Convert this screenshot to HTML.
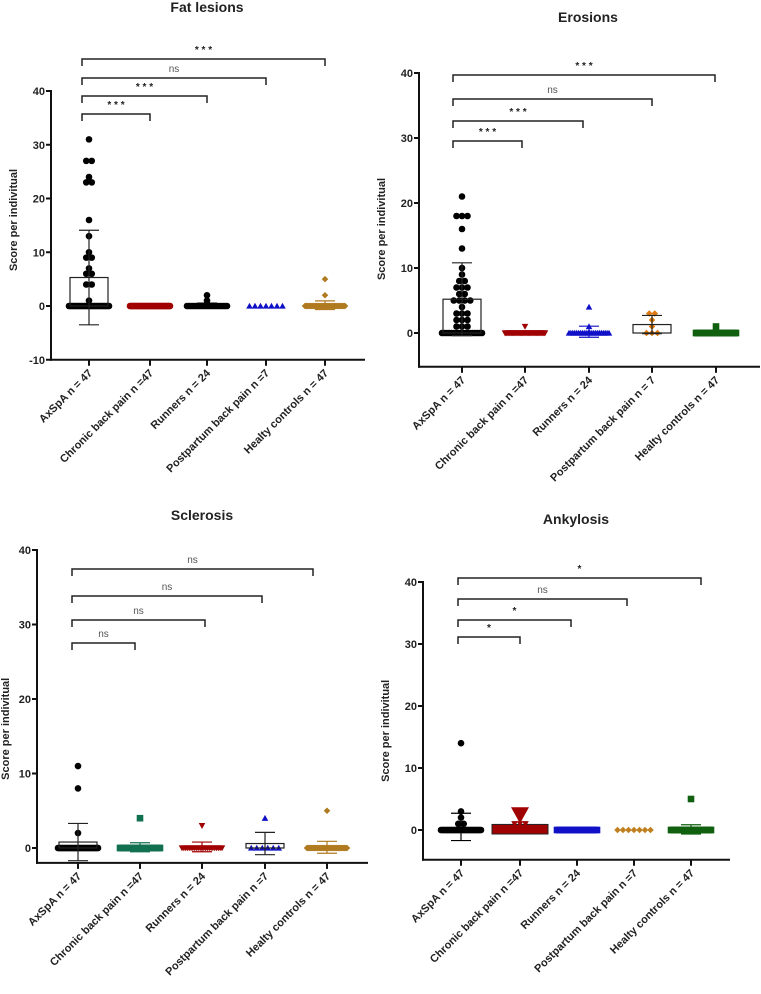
<!DOCTYPE html>
<html><head><meta charset="utf-8">
<style>
html,body{margin:0;padding:0;background:#fff;}
svg{display:block;font-family:"Liberation Sans",Arial,sans-serif;}
</style></head>
<body>
<svg id="fig" width="761" height="994" viewBox="0 0 761 994"></svg>
<script>
// ---------- data ----------
const categories = ["AxSpA n = 47","Chronic back pain n =47","Runners n = 24","Postpartum back pain n =7","Healty controls n = 47"];
const categoriesEro = ["AxSpA n = 47","Chronic back pain n =47","Runners n = 24","Postpartum back pain n = 7","Healty controls n = 47"];
const yTicks = [-10,0,10,20,30,40];
const yTicksB = [0,10,20,30,40];
// Fat lesions values per group
const fatAx = [31,27,27,24,23,23,16,13,10,9,9,7,6,6,4,4,1].concat(Array(30).fill(0));
const fatCbp = Array(47).fill(0);
const fatRun = [2,1].concat(Array(22).fill(0));
const fatPp = Array(7).fill(0);
const fatHc = [5,2].concat(Array(45).fill(0));
const fatMean = [5.3,0,0.1,0,0.15];
const fatSd = [8.8,0,0.45,0,0.8];
const fatSig = ["* * *","* * *","ns","* * *"];
// Erosions
const eroAx = [21,18,18,18,16,13,10,9,8,8,7,7,7,6,6,5,5,5,5,4,3,3,3,2,2,2,1,1,1].concat(Array(18).fill(0));
const eroCbp = [1].concat(Array(46).fill(0));
const eroRun = [4,1].concat(Array(22).fill(0));
const eroPp = [3,3,2,1,0,0,0];
const eroHc = [1].concat(Array(46).fill(0));
const eroMean = [5.2,0.05,0.2,1.3,0.05];
const eroSd = [5.6,0.2,0.85,1.4,0.2];
const eroSig = ["* * *","* * *","ns","* * *"];
// Sclerosis
const sclAx = [11,8,2].concat(Array(44).fill(0));
const sclCbp = [4].concat(Array(46).fill(0));
const sclRun = [3].concat(Array(23).fill(0));
const sclPp = [4,0,0,0,0,0,0];
const sclHc = [5].concat(Array(46).fill(0));
const sclMean = [0.8,0.1,0.15,0.6,0.1];
const sclSd = [2.5,0.6,0.65,1.5,0.8];
const sclSig = ["ns","ns","ns","ns"];
// Ankylosis
const ankAx = [14,3,2,1,1].concat(Array(42).fill(0));
const ankCbp = [2.5,1,1,1].concat(Array(43).fill(0));
const ankRun = Array(24).fill(0);
const ankPp = Array(7).fill(0);
const ankHc = [5].concat(Array(46).fill(0));
const ankMean = [0.5,0.9,0,0,0.1];
const ankSd = [2.2,0,0,0,0.75];
const ankSig = ["*","*","ns","*"];

// ---------- layout ----------
const panels = [
 {name:"fat-lesions",title:"Fat lesions",tx:207,ty:12,ax:51,y0:306,y40:91,ymin:-10,xr:365,cx:[89,150,207,266,325],
  groups:[fatAx,fatCbp,fatRun,fatPp,fatHc],mean:fatMean,sd:fatSd,sig:fatSig,brY:[114,96,78,59],bl:82,br:[150,207,266,325],
  ticks:yTicks,cats:categories,colors:["#000","#a00000","#000","#1010c8","#b07a20"],shapes:["c","c","c","t","d"],boxes:[1,0,0,0,0]},
 {name:"erosions",title:"Erosions",tx:588,ty:22,ax:419,y0:333,y40:73,ymin:-5.2,xr:760,cx:[462,525,589,652,716],
  groups:[eroAx,eroCbp,eroRun,eroPp,eroHc],mean:eroMean,sd:eroSd,sig:eroSig,brY:[141,121,99,75],bl:453,br:[522,583,652,715],
  ticks:yTicksB,cats:categoriesEro,colors:["#000","#a00000","#1010c8","#e07a10","#106010"],shapes:["c","v","t","d","s"],boxes:[1,0,0,1,0]},
 {name:"sclerosis",title:"Sclerosis",tx:202,ty:520,ax:37,y0:848,y40:550,ymin:-2,xr:368,cx:[78,140,202,265,327],
  groups:[sclAx,sclCbp,sclRun,sclPp,sclHc],mean:sclMean,sd:sclSd,sig:sclSig,brY:[643,620,596,569],bl:72,br:[135,205,262,313],
  ticks:yTicksB,cats:categories,colors:["#000","#107050","#a00000","#1010c8","#b07a20"],shapes:["c","s","v","t","d"],boxes:[1,0,0,1,0]},
 {name:"ankylosis",title:"Ankylosis",tx:576,ty:524,ax:423,y0:830,y40:582,ymin:-4.8,xr:730,cx:[461,520,577,634,691],
  groups:[ankAx,ankCbp,ankRun,ankPp,ankHc],mean:ankMean,sd:ankSd,sig:ankSig,brY:[637,620,599,578],bl:458,br:[520,571,627,701],
  ticks:yTicksB,cats:categories,colors:["#000","#a00000","#1010c8","#c08020","#106010"],shapes:["c","v","s","d","s"],boxes:[0,2,0,0,0]}
];
const NS="http://www.w3.org/2000/svg";
const svg=document.getElementById('fig');
function mk(tag,attrs,parent){const e=document.createElementNS(NS,tag);for(const k in attrs)e.setAttribute(k,attrs[k]);(parent||svg).appendChild(e);return e;}
function marker(shape,x,y,r,col,g){
  let e;
  if(shape==="c") e=mk('circle',{cx:x,cy:y,r:r,fill:col},g);
  else if(shape==="s") e=mk('rect',{x:x-r,y:y-r,width:2*r,height:2*r,fill:col},g);
  else if(shape==="t") e=mk('polygon',{points:`${x},${y-r} ${x+r},${y+r*0.8} ${x-r},${y+r*0.8}`,fill:col},g);
  else if(shape==="v") e=mk('polygon',{points:`${x-r},${y-r*0.8} ${x+r},${y-r*0.8} ${x},${y+r}`,fill:col},g);
  else e=mk('polygon',{points:`${x},${y-r} ${x+r},${y} ${x},${y+r} ${x-r},${y}`,fill:col},g);
  return e;
}
panels.forEach(p=>{
  const g=mk('g',{});
  
  
  const ys=v=>p.y0-(v)*(p.y0-p.y40)/40;
  const yb=ys(p.ymin);
  const t=mk('text',{x:p.tx,y:p.ty,'text-anchor':'middle','font-size':14,'font-weight':'bold',fill:'#222'},g);
  t.textContent=p.title;
  
  
  const ya=mk('line',{x1:p.ax,y1:ys(40)-1,x2:p.ax,y2:yb+1,stroke:'#111','stroke-width':2},g);
  
  
  const xa=mk('line',{x1:p.ax-1,y1:yb,x2:p.xr,y2:yb,stroke:'#111','stroke-width':2},g);
  
  
  p.ticks.forEach(v=>{
    mk('line',{x1:p.ax-5,y1:ys(v),x2:p.ax,y2:ys(v),stroke:'#111','stroke-width':2},g);
    const tl=mk('text',{x:p.ax-6,y:ys(v)+4,'text-anchor':'end','font-size':11,'font-weight':'bold',fill:'#222'},g);
    tl.textContent=v;
    
    
  });
  const ytx=Math.max(p.ax-34,9);
  const yt=mk('text',{x:0,y:0,'text-anchor':'middle','font-size':11,'font-weight':'bold',fill:'#222',transform:`translate(${ytx},${ys(16)}) rotate(-90)`},g);
  yt.textContent="Score per indivitual";
  
  
  p.cats.forEach((c,i)=>{
    const x=p.cx[i];
    mk('line',{x1:x,y1:yb,x2:x,y2:yb+6,stroke:'#111','stroke-width':2},g);
    const cl=mk('text',{x:0,y:0,'text-anchor':'end','font-size':11,'font-weight':'bold',fill:'#222',transform:`translate(${x+4},${yb+14}) rotate(-45)`},g);
    cl.textContent=c;
    
    
  });
  p.groups.forEach((vals,i)=>{
    const x=p.cx[i], col=p.colors[i];
    const gg=mk('g',{},g);
    
    
    const m=p.mean[i], s=p.sd[i];
    if(p.boxes[i]===2){
      const b=mk('rect',{x:x-28,y:ys(m),width:56,height:Math.max(0,ys(0)-ys(m))+4,fill:col,stroke:'#222','stroke-width':1},gg);
      
      
    }
    const counts={};
    vals.forEach(v=>counts[v]=(counts[v]||0)+1);
    Object.keys(counts).forEach(k=>{
      const v=+k,n=counts[k];
      const sp=n>1?Math.min(5.5,40/(n-1)):0;
      for(let j=0;j<n;j++){
        const px=x+(j-(n-1)/2)*sp;
        const r=(p.boxes[i]===2&&v>2)?9:3.3;
        const pt=marker(p.shapes[i],px,ys(v),r,col,gg);
        
        
      }
    });
    if(p.boxes[i]===1){
      const b=mk('rect',{x:x-19,y:ys(m),width:38,height:Math.max(0,ys(0)-ys(m)),fill:'none',stroke:'#222','stroke-width':1.2},gg);
      
      
    }
    if(s>0){
      const ec=p.boxes[i]?'#222':col;
      const e=mk('line',{x1:x,y1:ys(m+s),x2:x,y2:ys(m-s),stroke:ec,'stroke-width':1.2},gg);
      
      
      mk('line',{x1:x-10,y1:ys(m+s),x2:x+10,y2:ys(m+s),stroke:ec,'stroke-width':1.2},gg);
      mk('line',{x1:x-10,y1:ys(m-s),x2:x+10,y2:ys(m-s),stroke:ec,'stroke-width':1.2},gg);
    }
  });
  p.sig.forEach((s,k)=>{
    const y=p.brY[k],x1=p.bl,x2=p.br[k];
    const br=mk('polyline',{points:`${x1},${y+7} ${x1},${y} ${x2},${y} ${x2},${y+7}`,fill:'none',stroke:'#222','stroke-width':1.5},g);
    
    
    const st=mk('text',{x:(x1+x2)/2,y:y-6,'text-anchor':'middle','font-size':10,fill:s==="ns"?'#555':'#222','font-weight':s==="ns"?'normal':'bold'},g);
    st.textContent=s;
    
    
  });
});
</script>
</body></html>
